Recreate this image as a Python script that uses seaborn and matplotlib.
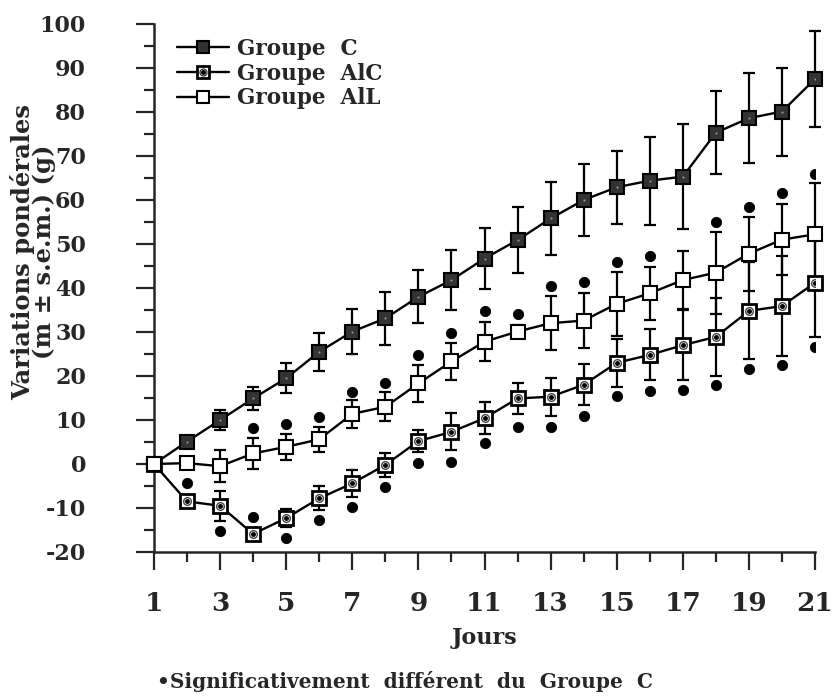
import numpy as np
import pandas as pd
import matplotlib
matplotlib.use("Agg")
import matplotlib.pyplot as plt
import seaborn as sns
from matplotlib.lines import Line2D
from matplotlib.ticker import MultipleLocator

# donnees
jours = list(range(1, 22))

c_moy = [0, 5.1, 10.0, 14.9, 19.5, 25.5, 30.1, 33.1, 38.0, 41.8, 46.7,
         50.9, 55.8, 60.0, 62.9, 64.4, 65.3, 75.3, 78.6, 80.1, 87.5]
c_sem = [0, 1.2, 2.2, 2.6, 3.4, 4.3, 5.2, 6.1, 6.0, 6.8, 6.9,
         7.5, 8.2, 8.2, 8.3, 10.0, 12.0, 9.5, 10.2, 10.0, 11.0]

alc_moy = [0, -8.5, -9.5, -15.9, -12.3, -7.8, -4.4, -0.2, 5.2, 7.3, 10.4,
           14.9, 15.3, 18.0, 23.0, 24.8, 27.0, 28.9, 34.8, 35.9, 41.2]
alc_sem = [0, 1.2, 3.4, 1.2, 2.0, 2.7, 3.0, 2.7, 2.5, 4.2, 3.6,
           3.5, 4.3, 4.7, 5.5, 5.8, 7.9, 8.8, 11.0, 11.4, 12.4]

all_moy = [0, 0.2, -0.5, 2.4, 3.9, 5.6, 11.4, 13.0, 18.3, 23.3, 27.8,
           30.1, 32.0, 32.6, 36.4, 38.8, 41.8, 43.5, 47.8, 51.0, 52.2]
all_sem = [0, 1.2, 3.6, 3.5, 2.9, 2.8, 3.2, 3.3, 4.1, 4.2, 4.4,
           1.5, 6.2, 6.3, 7.2, 6.0, 6.5, 9.3, 8.4, 8.1, 11.6]

# points "significativement different du groupe C"
sig_all_jours = [4, 5, 6, 7, 8, 9, 10, 11, 12, 13, 14, 15, 16, 18, 19, 20, 21]
sig_all_val = [8.1, 9.2, 10.6, 16.4, 18.3, 24.8, 29.7, 34.8, 34.2, 40.5,
               41.4, 45.8, 47.3, 55.1, 58.3, 61.5, 66.0]
sig_alc_jours = [2, 3, 4, 5, 6, 7, 8, 9, 10, 11, 12, 13, 14, 15, 16, 17,
                 18, 19, 20, 21]
sig_alc_val = [-4.4, -15.2, -12.1, -16.9, -12.7, -9.7, -5.2, 0.2, 0.5, 4.7,
               8.5, 8.3, 10.8, 15.5, 16.7, 16.8, 18.0, 21.7, 22.5, 26.7]

labels = ["Groupe  C", "Groupe  AlC", "Groupe  AlL"]

sns.set_style("ticks")
plt.rcParams['font.family'] = ['DejaVu Serif']
plt.rcParams['font.weight'] = 'bold'
plt.rcParams['axes.unicode_minus'] = False

fig = plt.figure(figsize=(8.32, 7.0), dpi=100)
ax = fig.add_axes([154 / 832, 1 - 552 / 700, 661 / 832, 528 / 700])

MS = 9.5
LW = 1.7

# barres d'erreur
for moy, sem in [(c_moy, c_sem), (alc_moy, alc_sem), (all_moy, all_sem)]:
    ax.errorbar(jours, moy, yerr=sem, fmt='none', ecolor='black',
                elinewidth=1.6, capsize=4, capthick=1.6, zorder=2,
                clip_on=False)

# courbes
sns.lineplot(x=jours, y=c_moy, ax=ax, color='black', lw=LW, marker='s',
             markersize=MS, markerfacecolor='#333333',
             markeredgecolor='black', markeredgewidth=1.5, zorder=4,
             estimator=None, clip_on=False)
sns.lineplot(x=jours, y=alc_moy, ax=ax, color='black', lw=LW, marker='s',
             markersize=MS, markerfacecolor='white',
             markeredgecolor='black', markeredgewidth=2.0, zorder=4,
             estimator=None, clip_on=False)
sns.lineplot(x=jours, y=all_moy, ax=ax, color='black', lw=LW, marker='s',
             markersize=MS, markerfacecolor='white',
             markeredgecolor='black', markeredgewidth=1.5, zorder=5,
             estimator=None, clip_on=False)
# motif interieur des carres
ax.plot(jours[1:], c_moy[1:], ls='none', marker='.', ms=3, mfc='#9a9a9a',
        mec='none', zorder=6)
ax.plot(jours[1:], alc_moy[1:], ls='none', marker='o', ms=5.5, mfc='white',
        mec='#444444', mew=1.0, zorder=6)
ax.plot(jours[1:], alc_moy[1:], ls='none', marker='o', ms=2.5, mfc='black',
        mec='black', zorder=7)

# points de significativite
sns.scatterplot(x=sig_all_jours + sig_alc_jours, y=sig_all_val + sig_alc_val,
                ax=ax, color='black', s=55, edgecolor='black', zorder=6)

ax.set_xlim(1, 21)
ax.set_ylim(-20, 100)
ax.xaxis.set_major_locator(MultipleLocator(2))
ax.xaxis.set_minor_locator(MultipleLocator(1))
ax.yaxis.set_major_locator(MultipleLocator(10))
ax.yaxis.set_minor_locator(MultipleLocator(5))
ax.tick_params(axis='both', which='major', length=13, width=1.6,
               direction='out')
ax.tick_params(axis='both', which='minor', length=7, width=1.6,
               direction='out')
ax.tick_params(axis='y', which='major', pad=36, labelsize=16)
ax.tick_params(axis='x', which='major', pad=15, labelsize=19)
sns.despine(ax=ax)
for s in ['left', 'bottom']:
    ax.spines[s].set_linewidth(1.8)
ax.set_xticks(range(1, 22, 2))
ax.set_xticklabels([str(d) for d in range(1, 22, 2)], fontweight='bold')

ax.set_xlabel("Jours", fontsize=16, fontweight='bold')
ax.xaxis.set_label_coords(0.5, -0.142)
ax.set_ylabel("")
fig.text(33 / 832, 1 - 252 / 700, "Variations pondérales\n(m ± s.e.m.) (g)",
         rotation=90, ha='center', va='center', multialignment='center',
         fontsize=17.5, fontweight='bold', linespacing=0.85)

fig.text(157 / 832, 1 - 681 / 700,
         "•Significativement  différent  du  Groupe  C",
         ha='left', va='center', fontsize=14.5, fontweight='bold')

# legende
h_c = Line2D([], [], color='black', lw=LW, marker='s', ms=MS - 1,
             mfc='#333333', mec='black', mew=1.5)
h_alc = (Line2D([], [], color='black', lw=LW, marker='s', ms=MS - 1,
                mfc='white', mec='black', mew=2.0),
         Line2D([], [], ls='none', marker='o', ms=5, mfc='white',
                mec='#444444', mew=1.0),
         Line2D([], [], ls='none', marker='o', ms=2.5, mfc='black',
                mec='black'))
h_all = Line2D([], [], color='black', lw=LW, marker='s', ms=MS - 1,
               mfc='white', mec='black', mew=1.5)
ax.legend([h_c, h_alc, h_all], labels, loc='upper left',
          bbox_to_anchor=((177 - 154) / 661, (552 - 38) / 528),
          frameon=False, fontsize=15.5, handlelength=2.4, handletextpad=0.4,
          labelspacing=0.12, borderpad=0, borderaxespad=0)

fig.savefig("out.png", dpi=100)
